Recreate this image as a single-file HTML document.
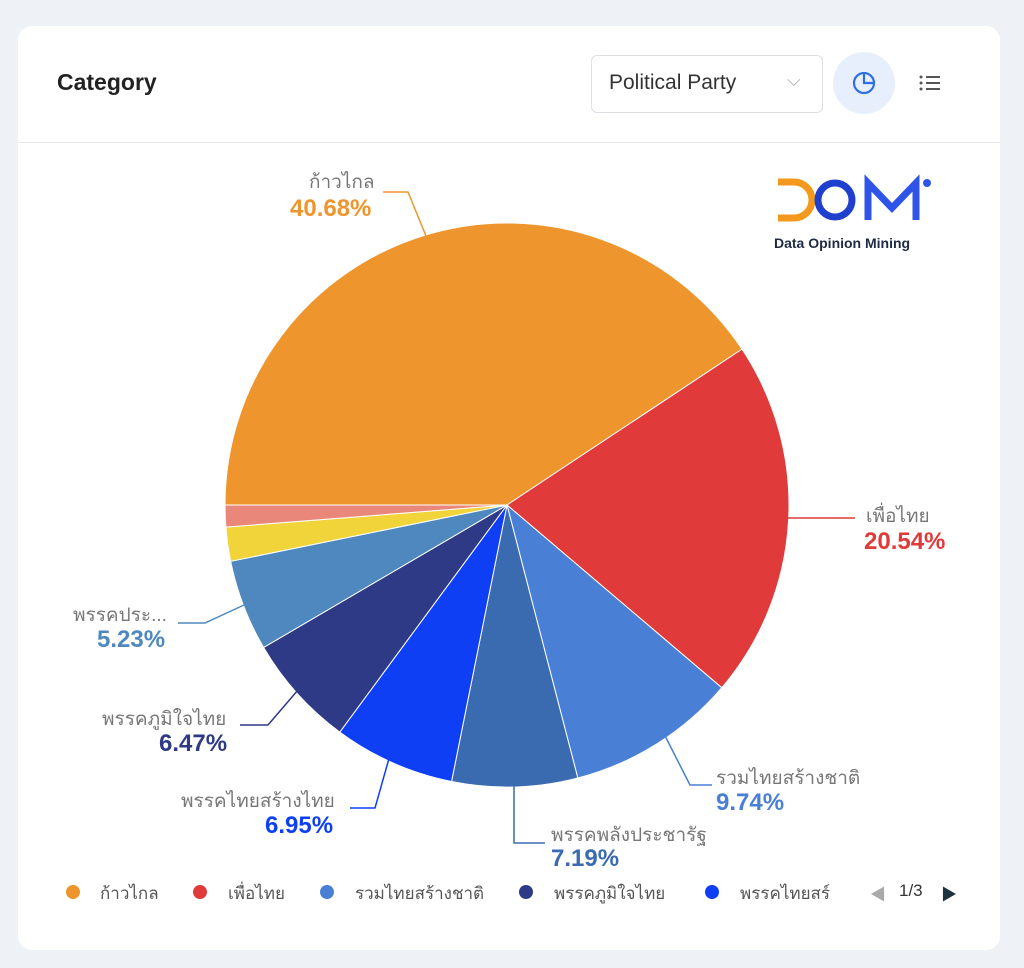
<!DOCTYPE html>
<html><head><meta charset="utf-8"><style>
body{margin:0;width:1024px;height:968px;background:#eef1f5;font-family:"Liberation Sans","Noto Sans CJK SC",sans-serif;position:relative;overflow:hidden}
.card{position:absolute;left:18px;top:26px;width:982px;height:924px;background:#fff;border-radius:14px}
.hdr{position:absolute;left:0;top:116px;width:982px;height:1px;background:#e6e8ec}
.t{position:absolute;white-space:nowrap}
.p{font-size:24px;font-weight:bold}
</style></head><body>
<div class="card"><div class="hdr"></div></div>
<div class="t" style="left:57px;top:69px;font-size:23px;font-weight:600;color:#222">Category</div>
<div style="position:absolute;left:591px;top:55px;width:230px;height:56px;border:1px solid #dcdfe4;border-radius:6px"></div>
<div class="t" style="left:609px;top:71px;font-size:21px;color:#333">Political Party</div>
<div class="t" style="left:787px;top:70px;font-size:18px;color:#aaa">⌵</div>
<div style="position:absolute;left:833px;top:52px;width:62px;height:62px;border-radius:50%;background:#e6effb"></div>
<svg style="position:absolute;left:0;top:0" width="1024" height="968">
<circle cx="864" cy="83" r="10" fill="none" stroke="#2f6fe0" stroke-width="2.2"/><path d="M864 73 V83 H874" fill="none" stroke="#2f6fe0" stroke-width="2.2"/>
<g fill="#555"><circle cx="921" cy="77" r="1.5"/><circle cx="921" cy="83" r="1.5"/><circle cx="921" cy="89" r="1.5"/></g>
<g stroke="#555" stroke-width="2"><line x1="926" y1="77" x2="940" y2="77"/><line x1="926" y1="83" x2="940" y2="83"/><line x1="926" y1="89" x2="940" y2="89"/></g>
<g id="pie"></g>
<g fill="none" stroke-width="1.5">
<polyline points="383,192 408,192 426,236" stroke="#EE952D"/>
<polyline points="782,518 855,518" stroke="#E03A3A"/>
<polyline points="657,720 690,785 712,785" stroke="#4A7FD6"/>
<polyline points="514,785 514,843 545,843" stroke="#3A6BB0"/>
<polyline points="390,755 375,808 350,808" stroke="#0F3FF5"/>
<polyline points="298,690 268,725 240,725" stroke="#2E3A85"/>
<polyline points="244,605 205,623 178,623" stroke="#4E88BF"/>
</g>
<path d="M778 182 h16 a18 18 0 0 1 0 36 h-16" fill="none" stroke="#f39a1e" stroke-width="7"/>
<circle cx="835" cy="200" r="17" fill="none" stroke="#1f3fcf" stroke-width="7"/>
<path d="M868 220 V183 L892 208 L916 183 V220" fill="none" stroke="#2f55e8" stroke-width="7"/>
<circle cx="927" cy="183" r="4" fill="#2f55e8"/>
<text x="774" y="248" font-size="14" font-weight="bold" fill="#1f2a44" font-family="Liberation Sans, sans-serif">Data Opinion Mining</text>
</svg>
<div class="t" style="left:309px;top:167px;font-size:19px;color:#777">ก้าวไกล</div>
<div class="t p" style="left:290px;top:195px;color:#EE952D">40.68%</div>
<div class="t" style="left:866px;top:501px;font-size:19px;color:#777">เพื่อไทย</div>
<div class="t p" style="left:864px;top:528px;color:#E03A3A">20.54%</div>
<div class="t" style="left:716px;top:763px;font-size:19px;color:#777">รวมไทยสร้างชาติ</div>
<div class="t p" style="left:716px;top:789px;color:#4A7FD6">9.74%</div>
<div class="t" style="left:551px;top:820px;font-size:19px;color:#777">พรรคพลังประชารัฐ</div>
<div class="t p" style="left:551px;top:845px;color:#3A6BB0">7.19%</div>
<div class="t" style="left:181px;top:786px;font-size:19px;color:#777">พรรคไทยสร้างไทย</div>
<div class="t p" style="left:265px;top:812px;color:#0F3FF5">6.95%</div>
<div class="t" style="left:102px;top:704px;font-size:19px;color:#777">พรรคภูมิใจไทย</div>
<div class="t p" style="left:159px;top:730px;color:#2E3A85">6.47%</div>
<div class="t" style="left:73px;top:600px;font-size:19px;color:#777">พรรคประ...</div>
<div class="t p" style="left:97px;top:626px;color:#4E88BF">5.23%</div>
<div style="position:absolute;top:876px;left:0;width:1024px;height:30px;font-size:17px;color:#555">
<span class="t" style="left:66px;top:9px;width:14px;height:14px;border-radius:50%;background:#EE952D"></span><span class="t" style="left:100px;top:4px">ก้าวไกล</span>
<span class="t" style="left:193px;top:9px;width:14px;height:14px;border-radius:50%;background:#E03A3A"></span><span class="t" style="left:228px;top:4px">เพื่อไทย</span>
<span class="t" style="left:320px;top:9px;width:14px;height:14px;border-radius:50%;background:#4A7FD6"></span><span class="t" style="left:355px;top:4px">รวมไทยสร้างชาติ</span>
<span class="t" style="left:519px;top:9px;width:14px;height:14px;border-radius:50%;background:#2E3A85"></span><span class="t" style="left:554px;top:4px">พรรคภูมิใจไทย</span>
<span class="t" style="left:705px;top:9px;width:14px;height:14px;border-radius:50%;background:#0F3FF5"></span><span class="t" style="left:740px;top:4px">พรรคไทยสร์</span>
<span class="t" style="left:870px;top:5px;font-size:16px;color:#aaa">◀</span><span class="t" style="left:899px;top:5px;color:#333">1/3</span><span class="t" style="left:941px;top:5px;font-size:16px;color:#1e3340">▶</span>
</div>
<script>
var d=[[40.68,"#EE952D"],[20.54,"#E03A3A"],[9.74,"#4A7FD6"],[7.19,"#3A6BB0"],[6.95,"#0F3FF5"],[6.47,"#2E3A85"],[5.23,"#4E88BF"],[1.95,"#F0D43A"],[1.25,"#E8877A"]];
var cx=507,cy=505,r=282,a=Math.PI,s="";
d.forEach(function(e){var b=a+e[0]/100*2*Math.PI;var x1=cx+r*Math.cos(a),y1=cy+r*Math.sin(a),x2=cx+r*Math.cos(b),y2=cy+r*Math.sin(b);
s+='<path d="M'+cx+' '+cy+' L'+x1+' '+y1+' A'+r+' '+r+' 0 '+(e[0]>50?1:0)+' 1 '+x2+' '+y2+' Z" fill="'+e[1]+'" stroke="#fff" stroke-width="1"/>';a=b;});
document.getElementById("pie").innerHTML=s;
</script>
</body></html>
